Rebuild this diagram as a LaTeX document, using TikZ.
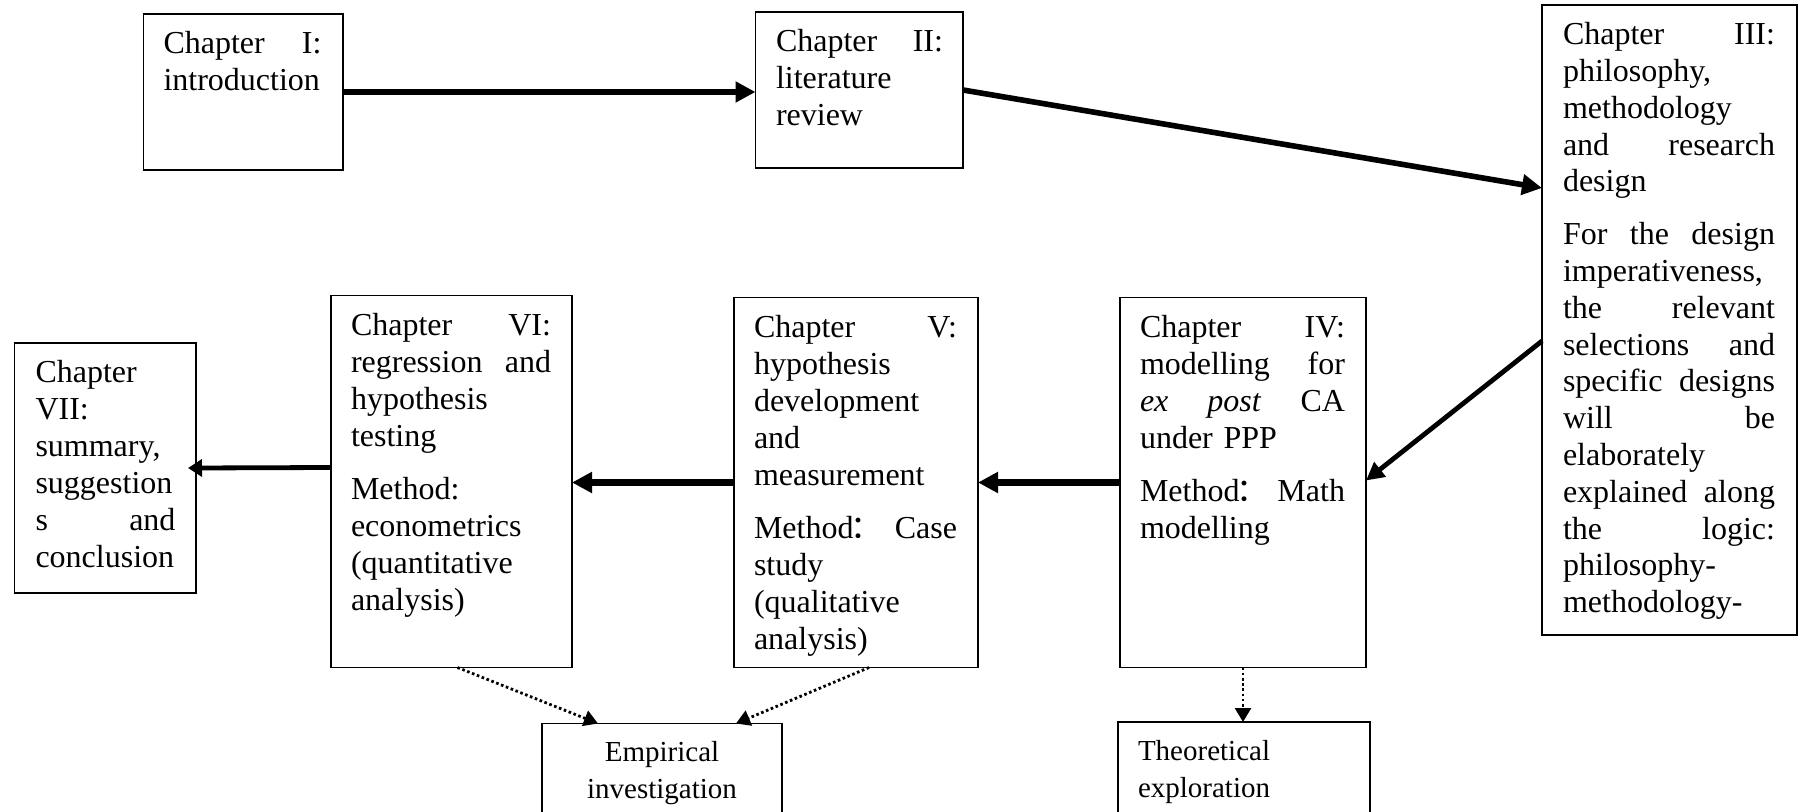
\documentclass[tikz,border=0pt]{standalone}
\usepackage{fontspec}
\setmainfont{Liberation Serif}
\newfontfamily\cjk{Noto Sans CJK SC}
\usetikzlibrary{arrows.meta,calc}
\newcommand\chapfont{\fontsize{16pt}{18.5pt}\selectfont\hyphenpenalty=10000\exhyphenpenalty=10000}
\newcommand\chapfontb{\fontsize{16pt}{18.4pt}\selectfont\hyphenpenalty=10000\exhyphenpenalty=10000}
\newcommand\smallboxfont{\fontsize{14.5pt}{18.5pt}\selectfont\hyphenpenalty=10000}
\newcommand\fwcolon{\kern-0.1em{\cjk ：}}
\begin{document}
\begin{tikzpicture}[x=0.5pt,y=-0.5pt,
  box/.style={draw, line width=0.8pt, inner sep=0pt, outer sep=0pt, anchor=north west},
  txt/.style={inner sep=0pt, outer sep=0pt, anchor=north west, align=left, font=\chapfont},
  bigarrow/.style={line width=3.2pt, -{Triangle[length=10pt,width=10pt]}},
  midarrow/.style={line width=2.4pt, -{Triangle[length=9pt,width=9pt]}},
  smallarrow/.style={line width=2.4pt, -{Triangle[length=7pt,width=8.5pt]}},
  dotarrow/.style={line width=1.4pt, dash pattern=on 1.3pt off 1.3pt, -{Triangle[length=7pt,width=8pt]}}
]
\clip (0,0) rectangle (1800,812);
\fill[white] (0,0) rectangle (1800,812);

% boxes
\node[box, minimum width=99.75pt, minimum height=78pt] (c1) at (143.5,14) {};
\node[box, minimum width=103.75pt, minimum height=78pt] (c2) at (755.5,12) {};
\node[box, minimum width=127.5pt, minimum height=315pt] (c3) at (1542,5) {};
\node[box, minimum width=123pt, minimum height=185pt] (c4) at (1120,297.5) {};
\node[box, minimum width=122pt, minimum height=185pt] (c5) at (734,297.5) {};
\node[box, minimum width=120.5pt, minimum height=186pt] (c6) at (331,295.5) {};
\node[box, minimum width=90.75pt, minimum height=125pt] (c7) at (14.5,343) {};
\node[box, minimum width=120pt, minimum height=60pt] (emp) at (542,723.5) {};
\node[box, minimum width=126pt, minimum height=60pt] (theo) at (1118,722) {};

% texts
\node[txt, text width=79pt] (t1) at (163.5,28) {\strut Chapter\hfill I:\\introduction};
\node[txt, text width=83.5pt] (t2) at (776,26) {\strut Chapter\hfill II:\\literature\\review};
\node[txt, text width=106pt, font=\chapfontb] (t3) at (1563,19) {\strut Chapter\hfill III:\\philosophy,\\methodology\\and\hfill research\\design\\[8pt]For\hfill the\hfill design\\imperativeness,\\the\hfill relevant\\selections\hfill and\\specific\hfill designs\\will\hfill be\\elaborately\\explained\hfill along\\the\hfill logic:\\philosophy-\\methodology-};
\node[txt, text width=102.5pt] (t4) at (1140,311.5) {\strut Chapter\hfill IV:\\modelling\hfill for\\\textit{ex}\hfill\textit{post}\hfill CA\\under PPP\\[8pt]Method\fwcolon\hfill Math\\modelling};
\node[txt, text width=101.5pt] (t5) at (754,311.5) {\strut Chapter\hfill V:\\hypothesis\\development\\and\\measurement\\[8pt]Method\fwcolon\hfill Case\\study\\(qualitative\\analysis)};
\node[txt, text width=100pt] (t6) at (351,309.5) {\strut Chapter\hfill VI:\\regression\hfill and\\hypothesis\\testing\\[8pt]Method:\\econometrics\\(quantitative\\analysis)};
\node[txt, text width=70pt] (t7) at (35.5,357) {\strut Chapter\\VII:\\summary,\\suggestion\\s\hfill and\\conclusion};
\node[txt, anchor=north, align=center, text width=110pt, font=\smallboxfont] (t8) at (662,736) {\strut Empirical\\investigation};
\node[txt, font=\smallboxfont, text width=110pt] (t9) at (1138,735) {\strut Theoretical\\exploration};

% connectors
\draw[bigarrow] (c1.east) -- (c1.east -| c2.west);
\draw[bigarrow, line width=2.8pt] (c2.east) -- ($(c3.north west)+(0,183)$);
\draw[midarrow] ($(c3.north west)+(0,336)$) -- ($(c4.north east)+(0,183)$);
\draw[bigarrow] (c4.west) -- (c4.west -| c5.east);
\draw[bigarrow] (c5.west) -- (c5.west -| c6.east);
\draw[smallarrow, shorten >=-4pt] ($(c6.north west)+(0,172)$) -- (c7.east);
\draw[dotarrow] ($(c6.south)+(6,0)$) -- ($(emp.north west)+(56,0)$);
\draw[dotarrow] ($(c5.south)+(13,0)$) -- ($(emp.north east)+(-46,0)$);
\draw[dotarrow] (c4.south) -- (c4.south |- theo.north);
\end{tikzpicture}
\end{document}
